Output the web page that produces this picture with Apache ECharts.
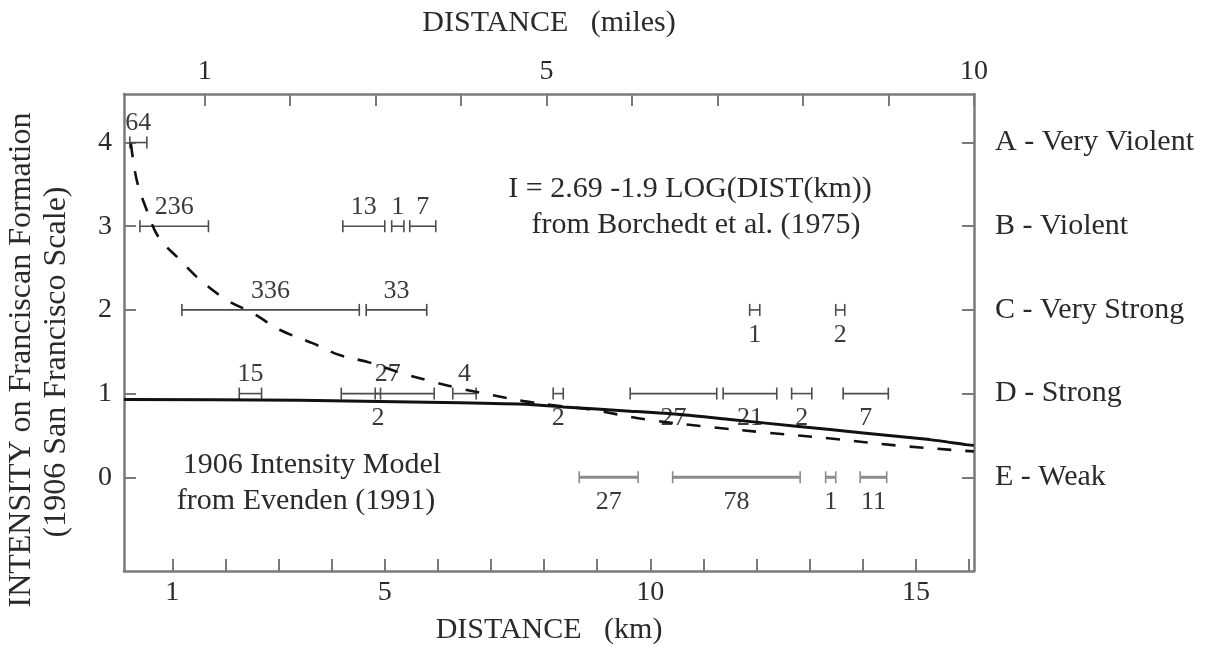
<!DOCTYPE html>
<html>
<head>
<meta charset="utf-8">
<title>1906 intensity vs distance</title>
<script src="https://cdn.jsdelivr.net/npm/echarts@6/dist/echarts.min.js"></script>
<style>
  html, body { margin: 0; background: #fff; }
  #chart { width: 1215px; height: 650px; }
</style>
</head>
<body>
<div id="chart"></div>
<script>
// axes
const KM_PER_MILE = 1.609344
const kmTicks = [1, 2, 3, 4, 5, 6, 7, 8, 9, 10, 11, 12, 13, 14, 15, 16]
const kmLabels = [1, 5, 10, 15]
const mileTicks = [1, 2, 3, 4, 5, 6, 7, 8, 9, 10]
const mileLabels = [1, 5, 10]
const intensityTicks = [0, 1, 2, 3, 4]
const intensityClasses = ['E - Weak', 'D - Strong', 'C - Very Strong', 'B - Violent', 'A - Very Violent']

// Borchedt et al. (1975) curve
const borchedtKm = [0.22, 0.33, 0.52, 0.74, 1.14, 1.52, 2.02, 2.52, 3.03, 3.65, 4.15, 4.72, 5.29, 5.85, 6.42, 7.04, 7.61, 8.17, 8.86, 9.93, 11.12, 12.25, 13.44, 14.64, 15.83, 16.09]
const borchedtI = [3.99, 3.55, 3.19, 2.87, 2.60, 2.36, 2.12, 1.96, 1.76, 1.60, 1.46, 1.37, 1.25, 1.15, 1.06, 0.98, 0.91, 0.86, 0.81, 0.69, 0.60, 0.53, 0.46, 0.38, 0.32, 0.31]

// Evenden (1991) model
const evendenKm = [0.09, 3.4, 6.41, 7.73, 8.36, 9.62, 10.56, 11.5, 12.75, 14.01, 15.26, 15.95, 16.09]
const evendenI = [0.93, 0.92, 0.89, 0.87, 0.84, 0.79, 0.75, 0.69, 0.61, 0.53, 0.45, 0.39, 0.38]

// observed ranges: km from / to, intensity level, count, count printed below bar
const barLo = [0.20, 0.39, 4.21, 5.13, 5.47, 1.18, 4.65, 11.87, 13.49, 2.26, 4.18, 4.82, 6.28, 8.17, 9.62, 11.37, 12.66, 13.63, 8.66, 10.42, 13.30, 13.95]
const barHi = [0.52, 1.68, 5.00, 5.36, 5.96, 4.52, 5.79, 12.06, 13.66, 2.68, 5.93, 4.92, 6.72, 8.36, 11.25, 12.38, 13.04, 14.48, 9.77, 12.82, 13.49, 14.45]
const barLevel = [4, 3, 3, 3, 3, 2, 2, 2, 2, 1, 1, 1, 1, 1, 1, 1, 1, 1, 0, 0, 0, 0]
const barCount = [64, 236, 13, 1, 7, 336, 33, 1, 2, 15, 27, 2, 4, 2, 27, 21, 2, 7, 27, 78, 1, 11]
const barBelow = [0, 0, 0, 0, 0, 0, 0, 1, 1, 0, 0, 1, 0, 1, 1, 1, 1, 1, 1, 1, 1, 1]

const serif = '"Liberation Serif", "DejaVu Serif", serif'
const frame = '#7a7a7a'
const ink = '#2a2a2a'

let chart = echarts.init(document.getElementById('chart'))

function xAxisOpt(pos, min, max, ticks, labels, name, gap) {
	return {
		type: 'value', position: pos, min: min, max: max,
		name: name, nameLocation: 'middle', nameGap: gap,
		nameTextStyle: { fontFamily: serif, fontSize: 30, color: ink },
		axisLine: { onZero: false, lineStyle: { color: frame, width: 2.5 } },
		axisTick: { inside: true, length: 12, customValues: ticks, lineStyle: { color: frame, width: 2 } },
		axisLabel: { customValues: labels, margin: 8, fontFamily: serif, fontSize: 28, color: ink },
		splitLine: { show: false }
	}
}

function yAxisOpt(pos, fmt, margin, size) {
	return {
		type: 'value', position: pos, min: -1.12, max: 4.58,
		axisLine: { show: true, onZero: false, lineStyle: { color: frame, width: 2.5 } },
		axisTick: { show: true, inside: true, length: 12, customValues: intensityTicks, lineStyle: { color: frame, width: 2 } },
		axisLabel: { customValues: intensityTicks, margin: margin, fontFamily: serif, fontSize: size, color: ink, formatter: fmt },
		splitLine: { show: false }
	}
}

const kmMin = 0.09, kmMax = 10 * KM_PER_MILE

let option = {
	animation: false,
	backgroundColor: '#fff',
	grid: { left: 124, right: 241, top: 94, bottom: 78 },
	xAxis: [
		xAxisOpt('bottom', kmMin, kmMax, kmTicks, kmLabels, 'DISTANCE   (km)', 44),
		xAxisOpt('top', kmMin / KM_PER_MILE, kmMax / KM_PER_MILE, mileTicks, mileLabels, 'DISTANCE   (miles)', 56)
	],
	yAxis: [
		yAxisOpt('left', function (v) { return String(v) }, 12, 28),
		yAxisOpt('right', function (v) { return intensityClasses[Math.round(v)] }, 21, 30)
	],
	series: [
		{
			type: 'custom', name: 'ranges', xAxisIndex: 0, yAxisIndex: 0, z: 2,
			data: barLo.map(function (lo, i) { return [lo, barHi[i], barLevel[i], barCount[i], barBelow[i]] }),
			renderItem: function (params, api) {
				const lvl = api.value(2)
				const a = api.coord([api.value(0), lvl])
				const b = api.coord([api.value(1), lvl])
				const grey = lvl === 0
				const color = grey ? '#8c8c8c' : '#4d4d4d'
				const cap = 6
				const ty = api.value(4) === 1 ? a[1] + 25 : a[1] - 19
				return {
					type: 'group',
					children: [
						{ type: 'line', shape: { x1: a[0], y1: a[1], x2: b[0], y2: b[1] }, style: { stroke: color, lineWidth: grey ? 3 : 1.6 } },
						{ type: 'line', shape: { x1: a[0], y1: a[1] - cap, x2: a[0], y2: a[1] + cap }, style: { stroke: color, lineWidth: 1.6 } },
						{ type: 'line', shape: { x1: b[0], y1: b[1] - cap, x2: b[0], y2: b[1] + cap }, style: { stroke: color, lineWidth: 1.6 } },
						{
							type: 'text', x: (a[0] + b[0]) / 2, y: ty,
							style: { text: String(barCount[params.dataIndex]), fontFamily: serif, fontSize: 26, fill: '#3a3a3a', align: 'center', verticalAlign: 'middle' }
						}
					]
				}
			}
		},
		{
			type: 'line', name: 'Evenden (1991)', z: 3,
			showSymbol: false, smooth: 0.2,
			lineStyle: { color: '#111', width: 3 },
			data: evendenKm.map(function (d, i) { return [d, evendenI[i]] })
		},
		{
			type: 'line', name: 'Borchedt et al. (1975)', z: 3,
			showSymbol: false, smooth: 0.35,
			lineStyle: { color: '#111', width: 2.6, type: [14, 14] },
			data: borchedtKm.map(function (d, i) { return [d, borchedtI[i]] })
		}
	],
	graphic: [
		{ type: 'text', x: 22, y: 360, rotation: Math.PI / 2, style: { text: 'INTENSITY on Franciscan Formation', fontFamily: serif, fontSize: 32, fill: ink, align: 'center', verticalAlign: 'middle' } },
		{ type: 'text', x: 57, y: 362, rotation: Math.PI / 2, style: { text: '(1906 San Francisco Scale)', fontFamily: serif, fontSize: 32, fill: ink, align: 'center', verticalAlign: 'middle' } },
		{ type: 'text', x: 690, y: 189, style: { text: 'I = 2.69 -1.9 LOG(DIST(km))', fontFamily: serif, fontSize: 30, fill: ink, align: 'center', verticalAlign: 'middle' } },
		{ type: 'text', x: 696, y: 225, style: { text: 'from Borchedt et al. (1975)', fontFamily: serif, fontSize: 30, fill: ink, align: 'center', verticalAlign: 'middle' } },
		{ type: 'text', x: 312, y: 465, style: { text: '1906 Intensity Model', fontFamily: serif, fontSize: 30, fill: ink, align: 'center', verticalAlign: 'middle' } },
		{ type: 'text', x: 306, y: 501, style: { text: 'from Evenden (1991)', fontFamily: serif, fontSize: 30, fill: ink, align: 'center', verticalAlign: 'middle' } }
	]
}

chart.setOption(option)
</script>
</body>
</html>
